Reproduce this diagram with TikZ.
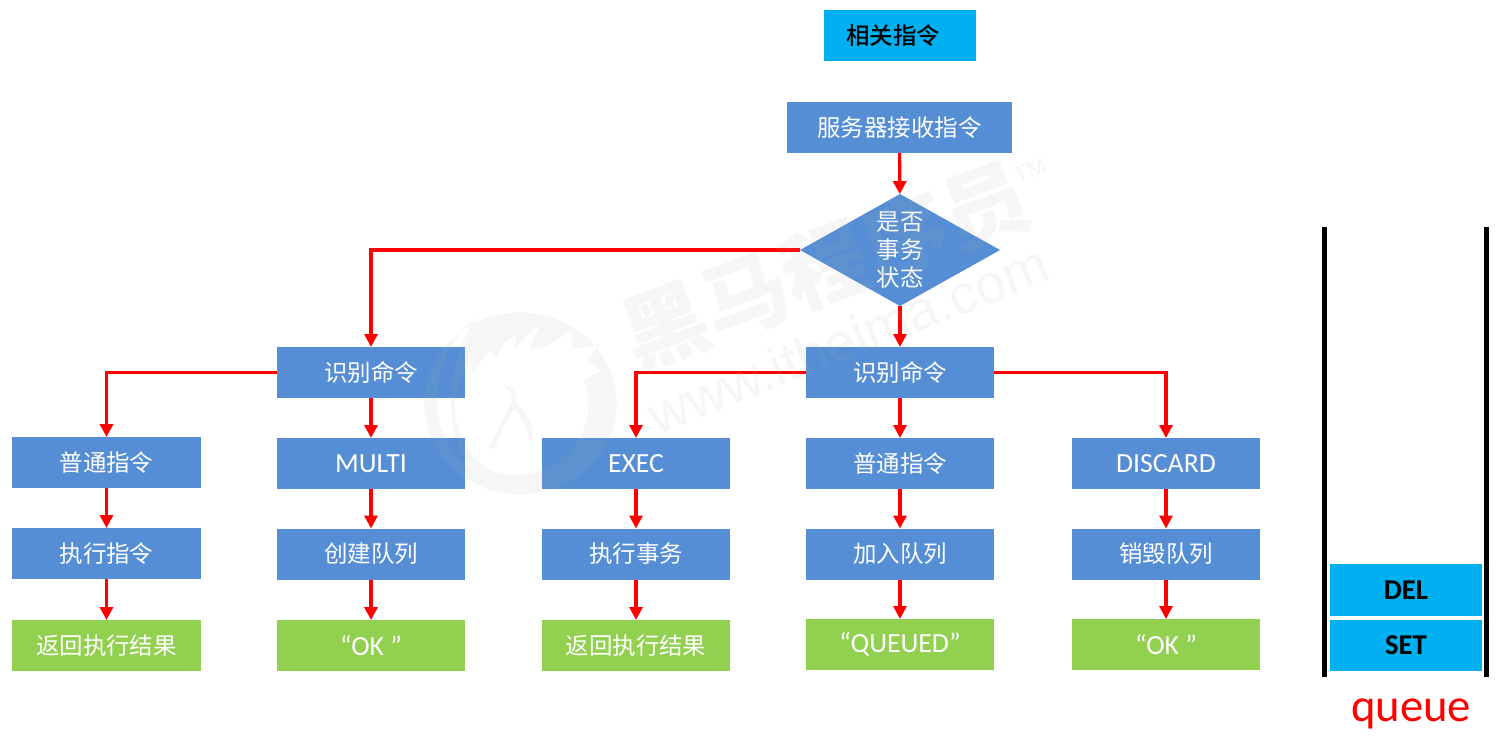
\documentclass[tikz,border=0pt]{standalone}
\usepackage{fontspec}
\setmainfont{Carlito}
\newfontfamily\cjk{Noto Sans CJK SC}
\newfontfamily\cjkmedium{Noto Sans CJK SC Medium}
\newfontfamily\wmlatin{Liberation Sans}
\usetikzlibrary{arrows.meta,shapes.geometric}
\definecolor{stepblue}{HTML}{558ED5}
\definecolor{endgreen}{HTML}{92D050}
\definecolor{skyblue}{HTML}{00B0F0}
\definecolor{markgray}{HTML}{AAAAAA}
\tikzset{
  flat/.style={rectangle,inner sep=0pt,outer sep=0pt,text=white,font=\fontsize{17.6}{21}\selectfont\cjk},
  stepbox/.style={flat,fill=stepblue,minimum width=141pt,minimum height=38.25pt},
  endbox/.style={flat,fill=endgreen,minimum width=141pt,minimum height=38.25pt},
  widecol/.style={minimum width=141.75pt},
  latin/.style={font=\fontsize{20.8}{24}\selectfont},
  choice/.style={diamond,inner sep=0pt,outer sep=0pt,fill=stepblue,text=white,align=center,
    minimum width=150pt,minimum height=84pt,aspect=1.79,
    font=\fontsize{17.6}{21}\selectfont\cjk},
  queueitem/.style={rectangle,inner sep=0pt,outer sep=0pt,fill=skyblue,text=black,
    minimum width=114pt,font=\fontsize{21.5}{24}\selectfont\bfseries},
  wall/.style={draw=black,line width=3.75pt},
  flow/.style={draw=red,line width=2.4pt,-{Triangle[length=9.75pt,width=9.75pt]}},
  faintshape/.style={fill=markgray,opacity=0.11},
  faintword/.style={text=markgray,text opacity=0.11,inner sep=0pt}
}
\begin{document}
\begin{tikzpicture}[x=0.75pt,y=-0.75pt]
\useasboundingbox (0,0) rectangle (1510,740);

% Heading
\node[flat,fill=skyblue,text=black,minimum width=114pt,minimum height=38.25pt,
  font=\fontsize{17.6}{21}\selectfont\cjkmedium] (title) at (900,35.5) {相关指令\kern10.5pt};

% Entry and branch
\node[flat,fill=stepblue,minimum width=168.75pt,minimum height=38.25pt] (recv) at (899.5,127.5) {服务器接收指令};
\node[choice] (state) at (900,250) {是否\\事务\\状态};
\node[stepbox] (idleft) at (371,372.5) {识别命令};
\node[stepbox] (idright) at (900,372.5) {识别命令};

% Outside a transaction
\node[stepbox,widecol] (plainA) at (106.5,462.5) {普通指令};
\node[stepbox,widecol] (runA) at (106.5,553.5) {执行指令};
\node[endbox,widecol] (resA) at (106.5,645.5) {返回执行结果};
\node[stepbox,latin] (multi) at (371,463.5) {MULTI};
\node[stepbox] (create) at (371,554) {创建队列};
\node[endbox,latin] (okA) at (371,645.5) {“OK ”};

% Inside a transaction
\node[stepbox,latin] (exec) at (636,463.5) {EXEC};
\node[stepbox] (runB) at (636,554) {执行事务};
\node[endbox] (resB) at (636,645.5) {返回执行结果};
\node[stepbox] (plainB) at (900,463.5) {普通指令};
\node[stepbox] (enqueue) at (900,554) {加入队列};
\node[endbox,latin] (queued) at (900,644.5) {“QUEUED”};
\node[stepbox,latin] (discard) at (1166,463.5) {DISCARD};
\node[stepbox] (destroy) at (1166,554) {销毁队列};
\node[endbox,latin] (okB) at (1166,644.5) {“OK ”};

% Connectors
\draw[flow] (recv) -- (state);
\draw[flow] (state) -- (idright);
\draw[flow] (state.west) -| (idleft.north);
\draw[flow] (idleft.west) -| (plainA.north);
\draw[flow] (idleft) -- (multi);
\draw[flow] (plainA) -- (runA);
\draw[flow] (runA) -- (resA);
\draw[flow] (multi) -- (create);
\draw[flow] (create) -- (okA);
\draw[flow] (idright.west) -| (exec.north);
\draw[flow] (idright) -- (plainB);
\draw[flow] (idright.east) -| (discard.north);
\draw[flow] (exec) -- (runB);
\draw[flow] (runB) -- (resB);
\draw[flow] (plainB) -- (enqueue);
\draw[flow] (enqueue) -- (queued);
\draw[flow] (discard) -- (destroy);
\draw[flow] (destroy) -- (okB);

% Command queue
\coordinate (wallAtop) at (1324.5,227);
\coordinate (wallAend) at (1324.5,677);
\coordinate (wallBtop) at (1486.5,227);
\coordinate (wallBend) at (1486.5,677);
\draw[wall] (wallAtop) -- (wallAend);
\draw[wall] (wallBtop) -- (wallBend);
\node[queueitem,minimum height=39pt] (del) at (1406,590) {DEL};
\node[queueitem,minimum height=38.25pt] (set) at (1406,645.5) {SET};
\node[inner sep=0pt,text=red,font=\fontsize{35}{40}\selectfont] (qname) at (1411,714) {queue};

% Brand mark laid faintly over the page
\begin{scope}[shift={(415,305)},x=0.25pt,y=-0.25pt]
  \path[faintshape,even odd rule]
    (316,22) .. controls (475,22) and (605,145) .. (605,295)
             .. controls (605,445) and (475,568) .. (316,568)
             .. controls (157,568) and (28,445) .. (28,295)
             .. controls (28,145) and (157,22) .. (316,22) -- cycle
    (170,450) .. controls (205,490) and (250,510) .. (300,510)
              .. controls (420,510) and (520,420) .. (520,300)
              .. controls (520,270) and (515,250) .. (505,225)
              -- (558,198) -- (515,165) -- (555,118) -- (470,132) -- (470,75)
              -- (400,122) -- (345,132) -- (375,58) -- (330,95) -- (298,135)
              -- (305,85) -- (268,115) -- (240,160) -- (225,135)
              -- (172,200) -- (165,150)
              .. controls (150,190) and (120,250) .. (120,300)
              .. controls (120,360) and (140,410) .. (170,450) -- cycle
    (185,40) .. controls (110,85) and (65,190) .. (65,295)
             .. controls (65,370) and (105,450) .. (172,492)
             .. controls (130,440) and (108,370) .. (108,300)
             .. controls (108,200) and (135,110) .. (185,40) -- cycle;
  \path[faintshape]
    (265,240) .. controls (295,240) and (308,270) .. (306,298)
              .. controls (335,320) and (360,360) .. (350,425)
              .. controls (345,395) and (325,340) .. (298,312)
              .. controls (270,350) and (245,400) .. (245,425)
              -- (218,433)
              .. controls (240,390) and (265,340) .. (290,295)
              .. controls (292,270) and (285,250) .. (265,240) -- cycle;
\end{scope}
\node[faintword,rotate=20.5,font=\fontsize{64}{70}\selectfont\cjk\bfseries]
  (brand) at (825,265) {黑马程序员};
\node[faintword,rotate=21.5,font=\fontsize{41}{50}\selectfont\wmlatin]
  (site) at (848,339) {www.itheima.com};
\node[faintword,rotate=20.5,font=\fontsize{17}{20}\selectfont\wmlatin]
  (tm) at (1030,170) {TM};
\end{tikzpicture}
\end{document}
